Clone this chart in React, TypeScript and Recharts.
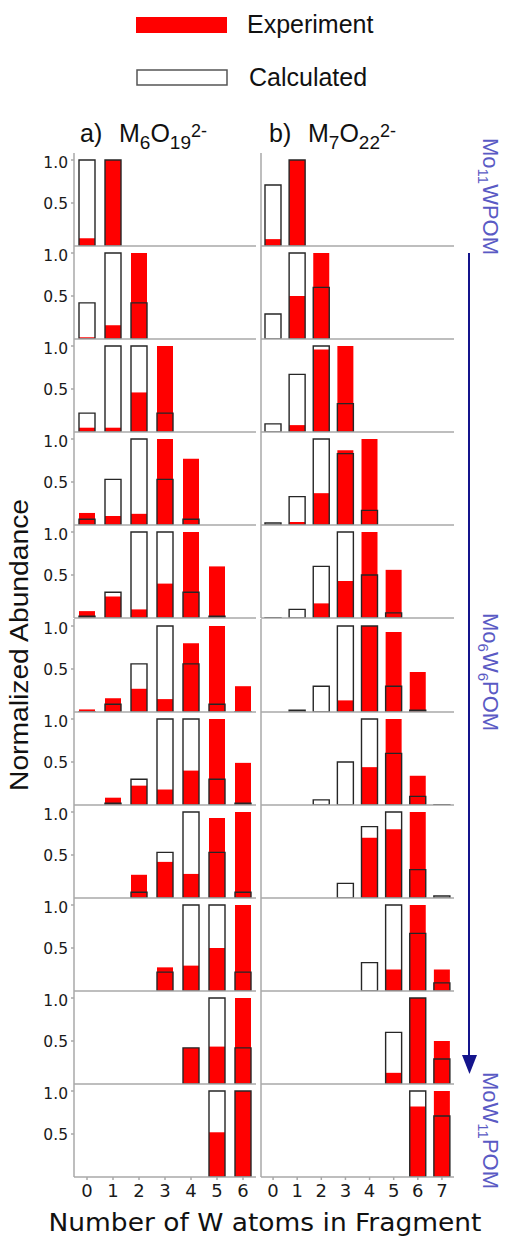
import React from 'react';
import { BarChart, Bar, XAxis, YAxis } from 'recharts';

// ---------- data ----------
const wAtomsA = [0, 1, 2, 3, 4, 5, 6];
const wAtomsB = [0, 1, 2, 3, 4, 5, 6, 7];
const yTicks = [0.5, 1.0];
const seriesNames = ['Experiment', 'Calculated'];
const sideLabels = ['Mo11WPOM', 'Mo6W6POM', 'MoW11POM'];

type V = number | null;

// a) M6O19(2-) — rows: Mo11W ... MoW11 ; columns: number of W atoms 0..6
const experimentA: V[][] = [
  [0.09, 1.0, null, null, null, null, null],
  [0.02, 0.16, 1.0, null, null, null, null],
  [0.05, 0.05, 0.46, 1.0, null, null, null],
  [0.14, 0.105, 0.13, 1.0, 0.77, null, null],
  [0.08, 0.25, 0.1, 0.4, 1.0, 0.6, null],
  [0.03, 0.16, 0.27, 0.15, 0.8, 1.0, 0.3],
  [null, 0.085, 0.225, 0.18, 0.4, 1.0, 0.49],
  [null, null, 0.27, 0.42, 0.28, 0.93, 1.0],
  [null, null, null, 0.275, 0.295, 0.5, 1.0],
  [null, null, null, null, 0.42, 0.435, 1.0],
  [null, null, null, null, null, 0.52, 1.0],
];
const calculatedA: V[][] = [
  [1.0, 1.0, null, null, null, null, null],
  [0.42, 1.0, 0.42, null, null, null, null],
  [0.22, 1.0, 1.0, 0.22, null, null, null],
  [0.067, 0.53, 1.0, 0.53, 0.067, null, null],
  [0.02, 0.3, 1.0, 1.0, 0.3, 0.02, null],
  [0.0025, 0.09, 0.56, 1.0, 0.56, 0.09, 0.0025],
  [null, 0.02, 0.3, 1.0, 1.0, 0.3, 0.02],
  [null, null, 0.067, 0.53, 1.0, 0.53, 0.067],
  [null, null, null, 0.22, 1.0, 1.0, 0.22],
  [null, null, null, null, 0.42, 1.0, 0.42],
  [null, null, null, null, null, 1.0, 1.0],
];

// b) M7O22(2-) — columns: number of W atoms 0..7
const experimentB: V[][] = [
  [0.08, 1.0, null, null, null, null, null, null],
  [null, 0.5, 1.0, null, null, null, null, null],
  [null, 0.08, 0.96, 1.0, null, null, null, null],
  [null, 0.035, 0.37, 0.87, 1.0, null, null, null],
  [null, null, 0.17, 0.43, 1.0, 0.56, null, null],
  [null, null, null, 0.135, 1.0, 0.93, 0.465, null],
  [null, null, null, null, 0.44, 1.0, 0.34, null],
  [null, null, null, null, 0.7, 0.8, 1.0, null],
  [null, null, null, null, null, 0.25, 1.0, 0.25],
  [null, null, null, null, null, 0.13, 1.0, 0.5],
  [null, null, null, null, null, null, 0.82, 1.0],
];
const calculatedB: V[][] = [
  [0.71, 1.0, null, null, null, null, null, null],
  [0.29, 1.0, 0.6, null, null, null, null, null],
  [0.095, 0.67, 1.0, 0.33, null, null, null, null],
  [0.024, 0.33, 1.0, 0.83, 0.17, null, null, null],
  [0.003, 0.1, 0.6, 1.0, 0.5, 0.06, null, null],
  [null, 0.02, 0.3, 1.0, 1.0, 0.3, 0.02, null],
  [null, null, 0.06, 0.5, 1.0, 0.6, 0.1, 0.003],
  [null, null, null, 0.17, 0.83, 1.0, 0.33, 0.024],
  [null, null, null, null, 0.33, 1.0, 0.67, 0.095],
  [null, null, null, null, null, 0.6, 1.0, 0.29],
  [null, null, null, null, null, null, 1.0, 0.71],
];

// ---------- layout ----------
const ROW_BOTTOM0 = 246;
const ROW_PITCH = 93.1;
const PLOT_H = 93;
const Y_MAX = 93 / 86;
const AXIS_GRAY = '#a8a8a8';
const RED = '#ff0000';
const OUTLINE = '#262626';
const BLUE_TEXT = '#5a5ac4';
const NAVY = '#14148c';

type PanelProps = {
  cats: number[];
  exp: V[];
  calc: V[];
  left: number;
  bottom: number;
  yW: number;
  plotW: number;
  showYLabels: boolean;
  isLast: boolean;
};

function Panel({ cats, exp, calc, left, bottom, yW, plotW, showYLabels, isLast }: PanelProps) {
  const xH = isLast ? 30 : 4;
  const h = PLOT_H + xH;
  const w = yW + plotW;
  const data = cats.map((c, i) => ({ w: c, exp: exp[i] ?? null, calc: calc[i] ?? null }));
  return (
    <div style={{ position: 'absolute', left, top: bottom - PLOT_H, width: w, height: h }}>
      <BarChart width={w} height={h} data={data} margin={{ top: 0, right: 0, bottom: 0, left: 0 }}>
        <XAxis
          xAxisId="main"
          dataKey="w"
          height={xH}
          stroke={AXIS_GRAY}
          strokeWidth={1.5}
          tickSize={3}
          tickMargin={4}
          interval={0}
          tick={isLast ? { fontSize: 18, fill: '#1a1a1a', fontFamily: 'DejaVu Sans' } : false}
        />
        <XAxis xAxisId="over" dataKey="w" hide />
        <YAxis
          domain={[0, Y_MAX]}
          ticks={yTicks}
          width={yW}
          allowDataOverflow
          stroke={AXIS_GRAY}
          strokeWidth={1.5}
          tickSize={3}
          tickMargin={3}
          tickFormatter={(v: number) => v.toFixed(1)}
          tick={showYLabels ? { fontSize: 15.5, fill: '#1a1a1a', fontFamily: 'DejaVu Sans' } : false}
        />
        <Bar xAxisId="main" dataKey="exp" fill={RED} barSize={16} isAnimationActive={false} />
        <Bar
          xAxisId="over"
          dataKey="calc"
          fill="none"
          stroke={OUTLINE}
          strokeWidth={1.4}
          barSize={16}
          isAnimationActive={false}
        />
      </BarChart>
    </div>
  );
}

function RotatedLabel({ x, y, main }: { x: number; y: number; main: string }) {
  const parts: { t: string; sub: boolean }[] = [];
  const re = /(\d+)|(\D+)/g;
  let m: RegExpExecArray | null;
  while ((m = re.exec(main)) !== null) {
    parts.push({ t: m[0], sub: !!m[1] });
  }
  let prevSub = false;
  return (
    <text transform={`translate(${x},${y}) rotate(90)`} fontFamily="Liberation Sans, Arial" fontSize={22} fill={BLUE_TEXT}>
      {parts.map((p, i) => {
        const dy = p.sub && !prevSub ? 5 : !p.sub && prevSub ? -5 : 0;
        prevSub = p.sub;
        return (
          <tspan key={i} dy={dy} fontSize={p.sub ? 15 : 22}>
            {p.t}
          </tspan>
        );
      })}
    </text>
  );
}

export default function App() {
  const rows = experimentA.map((_, i) => i);
  return (
    <div style={{ position: 'absolute', left: 0, top: 0, width: 506, height: 1238, background: '#fff', overflow: 'hidden' }}>
      {rows.map((i) => {
        const bottom = ROW_BOTTOM0 + ROW_PITCH * i;
        const isLast = i === rows.length - 1;
        return (
          <React.Fragment key={i}>
            <Panel
              cats={wAtomsA}
              exp={experimentA[i]}
              calc={calculatedA[i]}
              left={30}
              bottom={bottom}
              yW={44}
              plotW={182}
              showYLabels
              isLast={isLast}
            />
            <Panel
              cats={wAtomsB}
              exp={experimentB[i]}
              calc={calculatedB[i]}
              left={250}
              bottom={bottom}
              yW={11}
              plotW={193}
              showYLabels={false}
              isLast={isLast}
            />
          </React.Fragment>
        );
      })}
      <svg
        width={506}
        height={1238}
        style={{ position: 'absolute', left: 0, top: 0, pointerEvents: 'none' }}
      >
        {/* legend */}
        <rect x={136} y={17} width={91} height={16} fill={RED} />
        <text x={247} y={33} fontFamily="Liberation Sans, Arial" fontSize={25} fill="#111">
          {seriesNames[0]}
        </text>
        <rect x={137} y={70} width={90} height={15} fill="#fff" stroke="#555" strokeWidth={1.5} />
        <text x={249} y={86} fontFamily="Liberation Sans, Arial" fontSize={25} fill="#111">
          {seriesNames[1]}
        </text>

        {/* panel titles */}
        <text x={80} y={142} fontFamily="Liberation Sans, Arial" fontSize={25} fill="#111">
          a)
          <tspan x={119}>M</tspan>
          <tspan fontSize={19} dy={7}>6</tspan>
          <tspan dy={-7}>O</tspan>
          <tspan fontSize={19} dy={7}>19</tspan>
          <tspan fontSize={18} dy={-12}>2-</tspan>
        </text>
        <text x={269} y={142} fontFamily="Liberation Sans, Arial" fontSize={25} fill="#111">
          b)
          <tspan x={308}>M</tspan>
          <tspan fontSize={19} dy={7}>7</tspan>
          <tspan dy={-7}>O</tspan>
          <tspan fontSize={19} dy={7}>22</tspan>
          <tspan fontSize={18} dy={-12}>2-</tspan>
        </text>

        {/* y label */}
        <text
          transform="translate(28,645) rotate(-90)"
          textAnchor="middle"
          fontFamily="Liberation Sans, Arial"
          fontSize={25}
          fill="#111"
          textLength={292}
          lengthAdjust="spacingAndGlyphs"
        >
          Normalized Abundance
        </text>

        {/* x label */}
        <text
          x={265}
          y={1231}
          textAnchor="middle"
          fontFamily="DejaVu Sans"
          fontSize={25}
          fill="#111"
          textLength={433}
          lengthAdjust="spacingAndGlyphs"
        >
          Number of W atoms in Fragment
        </text>

        {/* arrow */}
        <line x1={469} y1={253} x2={469} y2={1057} stroke={NAVY} strokeWidth={2} />
        <polygon points="462,1055 477,1055 469.5,1074" fill={NAVY} />

        {/* side labels */}
        <RotatedLabel x={483} y={138} main={sideLabels[0]} />
        <RotatedLabel x={483} y={613} main={sideLabels[1]} />
        <RotatedLabel x={483} y={1072} main={sideLabels[2]} />
      </svg>
    </div>
  );
}
